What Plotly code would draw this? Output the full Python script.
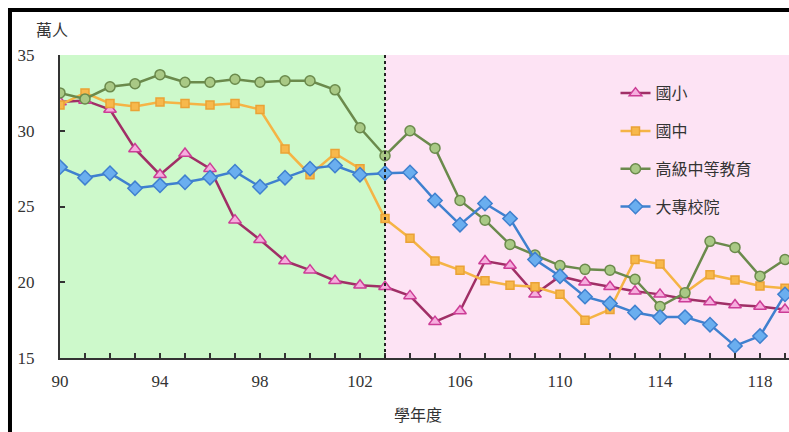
import plotly.graph_objects as go

years = list(range(90, 120))
primary = [31.9, 32.0, 31.4, 28.8, 27.1, 28.5, 27.5, 24.1, 22.8, 21.4, 20.8, 20.1, 19.8, 19.7,
           19.1, 17.4, 18.1, 21.4, 21.1, 19.2, 20.4, 20.0, 19.7, 19.4, 19.2, 18.9, 18.7, 18.5, 18.4, 18.2]
junior = [31.7, 32.5, 31.8, 31.6, 31.9, 31.8, 31.7, 31.8, 31.4, 28.8, 27.1, 28.5, 27.5, 24.2,
          22.9, 21.4, 20.8, 20.1, 19.8, 19.7, 19.2, 17.5, 18.2, 21.5, 21.2, 19.3, 20.5, 20.15, 19.75, 19.6]
senior = [32.5, 32.1, 32.9, 33.1, 33.7, 33.2, 33.2, 33.4, 33.2, 33.3, 33.3, 32.7, 30.2, 28.35,
          30.0, 28.85, 25.4, 24.1, 22.5, 21.8, 21.1, 20.85, 20.8, 20.2, 18.4, 19.3, 22.7, 22.3, 20.4, 21.5]
college = [27.6, 26.9, 27.2, 26.2, 26.4, 26.6, 26.9, 27.3, 26.3, 26.9, 27.5, 27.7, 27.1, 27.2,
           27.25, 25.4, 23.8, 25.2, 24.2, 21.5, 20.4, 19.05, 18.6, 18.0, 17.7, 17.7, 17.2, 15.8, 16.45, 19.2]
series_names = ["國小", "國中", "高級中等教育", "大專校院"]
major_ticks = [90, 94, 98, 102, 106, 110, 114, 118]
y_ticks = [15, 20, 25, 30, 35]
split_year = 103
x_range = [90, 119.16]
y_range = [15, 35]

styles = [
    dict(line="#a02f66", fill="#f6aede", edge="#cc3d96", symbol="triangle-up", size=11),
    dict(line="#f5b445", fill="#f7b84c", edge="#eaa236", symbol="square", size=8),
    dict(line="#6b8a4c", fill="#a9c985", edge="#6b8a4c", symbol="circle", size=10),
    dict(line="#3f80cf", fill="#6aaeef", edge="#3f80cf", symbol="diamond", size=11),
]

fig = go.Figure()
for name, vals, st in zip(series_names, [primary, junior, senior, college], styles):
    fig.add_trace(go.Scatter(
        x=years, y=vals, name=name, mode="lines+markers",
        line=dict(color=st["line"], width=2.5),
        marker=dict(symbol=st["symbol"], size=st["size"], color=st["fill"],
                    line=dict(color=st["edge"], width=1.5)),
        legendgroup=name,
    ))

# background regions
fig.add_shape(type="rect", xref="x", yref="y", x0=x_range[0], x1=split_year,
              y0=y_range[0], y1=y_range[1], fillcolor="#cdf9cb", line_width=0, layer="below")
fig.add_shape(type="rect", xref="x", yref="y", x0=split_year, x1=x_range[1],
              y0=y_range[0], y1=y_range[1], fillcolor="#fde3f4", line_width=0, layer="below")
fig.add_shape(type="line", xref="x", yref="y", x0=split_year, x1=split_year,
              y0=y_range[0], y1=y_range[1], line=dict(color="#222", width=2, dash="dot"))
# outer frame
fig.add_shape(type="rect", xref="paper", yref="paper", x0=-0.0686, x1=1.1,
              y0=-0.4, y1=1.1485, line=dict(color="black", width=4))

fig.add_annotation(text="萬人", xref="paper", yref="paper", x=-0.011, y=1.085,
                   xanchor="center", yanchor="middle", showarrow=False,
                   font=dict(family="Noto Sans CJK TC", size=16, color="#333"))
fig.add_annotation(text="學年度", xref="paper", yref="paper", x=0.491, y=-0.185,
                   xanchor="center", yanchor="middle", showarrow=False,
                   font=dict(family="Noto Sans CJK TC", size=16, color="#333"))

fig.update_layout(
    width=789, height=432,
    margin=dict(l=60, r=0, t=55, b=74),
    paper_bgcolor="white", plot_bgcolor="white",
    showlegend=True,
    legend=dict(x=0.762, y=0.93, xanchor="left", yanchor="top",
                bgcolor="rgba(0,0,0,0)", tracegroupgap=14,
                font=dict(family="Noto Sans CJK TC", size=16, color="#333")),
    xaxis=dict(range=x_range, tickvals=major_ticks, ticks="inside", ticklen=5,
               tickcolor="#333", tickwidth=2, showline=True, linecolor="#333",
               linewidth=2, showgrid=False, zeroline=False, ticklabelstandoff=7,
               minor=dict(dtick=1, ticks="inside", ticklen=5, tickcolor="#333",
                          tickwidth=2, showgrid=False),
               tickfont=dict(family="Liberation Serif", size=17, color="#333")),
    yaxis=dict(range=y_range, tickvals=y_ticks, ticks="inside", ticklen=5,
               tickcolor="#333", tickwidth=2, showline=True, linecolor="#333",
               linewidth=2, showgrid=False, zeroline=False, ticklabelstandoff=20,
               tickfont=dict(family="Liberation Serif", size=17, color="#333")),
)

fig.write_html("out.html", config={"displayModeBar": False},
               post_script="document.body.style.margin='0';")
